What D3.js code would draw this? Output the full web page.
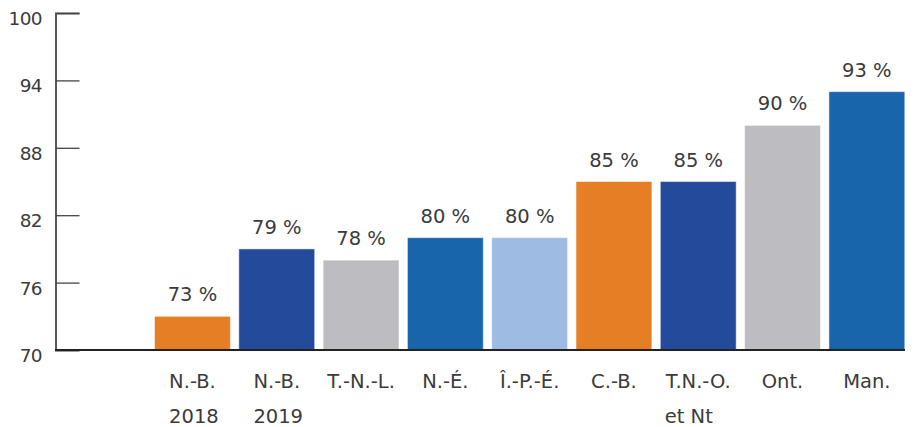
<!DOCTYPE html>
<html>
<head>
<meta charset="utf-8">
<script src="https://cdn.jsdelivr.net/npm/d3@7"></script>
<style>
  html, body { margin: 0; padding: 0; background: #ffffff; }
  svg { display: block; font-family: "DejaVu Sans", "Open Sans", sans-serif; }
</style>
</head>
<body>
<svg id="chart" width="924" height="427"></svg>
<script>
// Provinces / territories (first slot is left blank on purpose)
const categories = ["", "N.-B.|2018", "N.-B.|2019", "T.-N.-L.", "N.-É.", "Î.-P.-É.", "C.-B.", "T.N.-O.|et Nt", "Ont.", "Man."];
const values = [null, 73, 79, 78, 80, 80, 85, 85, 90, 93];
const barColors = [null, "#e57e25", "#244b9b", "#bdbdc1", "#1865ab", "#9dbbe3", "#e57e25", "#244b9b", "#bdbdc1", "#1865ab"];
const yTicks = [70, 76, 82, 88, 94, 100];

const svg = d3.select("#chart");
const textColor = "#3b3b3b";

const x = d3.scaleBand()
  .domain(categories)
  .range([66, 909])
  .paddingInner(0.1)
  .paddingOuter(0.05);

const y = d3.scaleLinear().domain([70, 100]).range([350, 13]);

// Y axis: ticks pointing inward (right)
const yAxis = d3.axisRight(y).tickValues(yTicks).tickSize(24).tickFormat("");
const yg = svg.append("g").attr("transform", "translate(55.5,0)").call(yAxis);
yg.select(".domain").attr("stroke", "#5a5a5a").attr("stroke-width", 2);
yg.selectAll(".tick line").attr("stroke", "#444").attr("stroke-width", 1.3);

svg.append("g").selectAll("text")
  .data(yTicks)
  .join("text")
  .attr("x", 42)
  .attr("y", d => y(d) + 12)
  .attr("text-anchor", "end")
  .attr("font-size", 18.5)
  .attr("letter-spacing", -0.6)
  .attr("fill", textColor)
  .text(d => d);

// Bars
const data = categories.map((c, i) => ({ c, v: values[i], color: barColors[i] })).filter(d => d.v !== null);

svg.append("g").selectAll("rect")
  .data(data)
  .join("rect")
  .attr("x", d => x(d.c))
  .attr("y", d => y(d.v))
  .attr("width", x.bandwidth())
  .attr("height", d => y(70) - y(d.v))
  .attr("fill", d => d.color)
  .attr("stroke", "#ffffff")
  .attr("stroke-opacity", 0.5)
  .attr("stroke-width", 1);

// Value labels
svg.append("g").selectAll("text")
  .data(data)
  .join("text")
  .attr("x", d => x(d.c) + x.bandwidth() / 2)
  .attr("y", d => y(d.v) - 15)
  .attr("text-anchor", "middle")
  .attr("font-size", 19.5)
  .attr("fill", textColor)
  .text(d => d.v + " %");

// Baseline
svg.append("line")
  .attr("x1", 55).attr("x2", 905)
  .attr("y1", y(70)).attr("y2", y(70))
  .attr("stroke", "#222").attr("stroke-width", 2.2);

// Category labels: first line centred under the bar, second line aligned with it
const lab = svg.append("g");
data.forEach(d => {
  const lines = d.c.split("|");
  const cx = x(d.c) + x.bandwidth() / 2;
  const t1 = lab.append("text")
    .attr("x", cx).attr("y", 388)
    .attr("text-anchor", "middle")
    .attr("font-size", 19.5)
    .attr("fill", textColor)
    .text(lines[0]);
  if (lines[1]) {
    const bb = t1.node().getBBox();
    lab.append("text")
      .attr("x", bb.x).attr("y", 423)
      .attr("font-size", 19.5)
      .attr("fill", textColor)
      .text(lines[1]);
  }
});
</script>
</body>
</html>
